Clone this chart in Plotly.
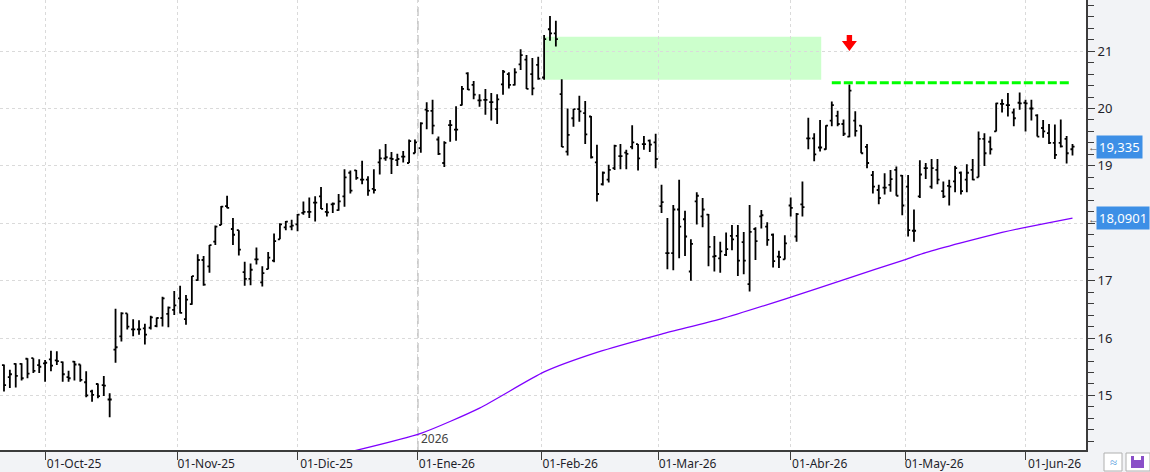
import pandas as pd
import plotly.graph_objects as go

# ---------------- data ----------------
HOLIDAYS = ['2025-12-25', '2025-12-26', '2026-01-01', '2026-04-03', '2026-04-06', '2026-05-01']
DATES = [d.strftime('%Y-%m-%d') for d in pd.bdate_range('2025-09-22', '2026-06-11')
         if d.strftime('%Y-%m-%d') not in HOLIDAYS]

OPEN = [15.53, 15.32, 15.55, 15.55, 15.64, 15.65, 15.53, 15.56, 15.63, 15.61,
        15.58, 15.32, 15.59, 15.54, 15.23, 15.07, 15.20, 15.18, 14.93, 15.80,
        16.03, 16.43, 16.15, 16.15, 16.17, 16.18, 16.21, 16.35, 16.42, 16.49,
        16.69, 16.33, 16.59, 17.01, 17.36, 17.25, 17.68, 17.97, 18.30, 17.90,
        17.88, 17.15, 17.03, 17.37, 16.97, 17.20, 17.35, 17.72, 17.93, 17.94,
        17.98, 18.18, 18.20, 18.36, 18.47, 18.20, 18.33, 18.23, 18.47, 18.88,
        18.92, 18.76, 18.76, 18.60, 19.06, 19.13, 19.13, 19.10, 19.16, 19.05,
        19.22, 19.31, 19.98, 19.96, 19.46, 19.05, 19.71, 19.63, 20.06, 20.61,
        20.41, 20.14, 20.15, 20.11, 19.99, 20.42, 20.60, 20.41, 20.77, 20.85,
        20.60, 20.76, 20.54, 21.38, 21.31, 20.25, 19.25, 19.83, 19.99, 19.92,
        19.86, 19.06, 18.68, 18.76, 18.96, 19.17, 19.23, 19.33, 19.38, 19.38,
        19.44, 19.41, 18.30, 17.48, 17.48, 18.24, 18.07, 17.16, 18.38, 18.12,
        18.15, 17.42, 17.39, 17.45, 17.78, 17.78, 17.67, 16.94, 17.90, 18.12,
        17.94, 17.80, 17.42, 17.37, 18.31, 17.77, 18.33, 19.48, 19.48, 19.32,
        19.29, 19.79, 19.87, 19.73, 19.51, 19.79, 19.70, 19.33, 18.84, 18.58,
        18.62, 18.67, 18.93, 18.83, 18.64, 17.87, 18.47, 18.96, 18.64, 18.93,
        18.56, 18.65, 18.73, 18.88, 18.76, 18.93, 18.80, 19.47, 19.42, 19.60,
        20.08, 20.06, 19.93, 20.10, 20.10, 20.00, 19.88, 19.66, 19.57, 19.40,
        19.40, 19.47, 19.29]
HIGH = [15.54, 15.45, 15.56, 15.56, 15.65, 15.65, 15.63, 15.62, 15.78, 15.77,
        15.59, 15.43, 15.60, 15.54, 15.42, 15.10, 15.21, 15.34, 15.04, 16.51,
        16.45, 16.43, 16.33, 16.31, 16.25, 16.39, 16.36, 16.72, 16.55, 16.82,
        16.91, 16.75, 17.08, 17.46, 17.43, 17.62, 17.96, 18.30, 18.48, 18.09,
        17.88, 17.33, 17.30, 17.58, 17.25, 17.50, 17.82, 18.00, 18.04, 18.06,
        18.16, 18.38, 18.45, 18.47, 18.63, 18.35, 18.36, 18.51, 18.94, 18.92,
        18.93, 19.09, 18.82, 18.94, 19.29, 19.38, 19.24, 19.21, 19.26, 19.46,
        19.46, 19.76, 20.11, 20.15, 19.51, 19.43, 19.80, 20.04, 20.39, 20.63,
        20.48, 20.25, 20.34, 20.27, 20.25, 20.67, 20.63, 20.70, 21.03, 20.93,
        20.88, 20.90, 21.28, 21.61, 21.53, 20.51, 20.00, 19.99, 20.22, 20.13,
        19.87, 19.37, 18.90, 19.02, 19.37, 19.38, 19.28, 19.71, 19.38, 19.52,
        19.46, 19.56, 18.67, 18.09, 18.32, 18.76, 18.22, 17.72, 18.54, 18.44,
        18.16, 17.78, 17.68, 17.84, 17.97, 17.97, 17.85, 18.32, 17.93, 18.23,
        18.02, 17.82, 17.52, 17.79, 18.45, 18.18, 18.73, 19.84, 19.57, 19.80,
        19.71, 20.12, 19.96, 19.81, 20.42, 19.95, 19.71, 19.38, 18.91, 18.67,
        18.87, 18.93, 18.99, 18.84, 18.84, 18.24, 19.10, 19.05, 19.12, 19.12,
        18.73, 18.76, 19.00, 18.90, 19.03, 19.12, 19.60, 19.57, 19.51, 20.10,
        20.16, 20.27, 20.00, 20.28, 20.15, 20.15, 19.90, 19.80, 19.73, 19.72,
        19.81, 19.52, 19.38]
LOW = [15.07, 15.13, 15.14, 15.26, 15.30, 15.39, 15.39, 15.24, 15.42, 15.53,
       15.24, 15.24, 15.26, 15.24, 14.97, 14.89, 14.95, 14.99, 14.62, 15.57,
       15.94, 16.15, 16.03, 16.06, 15.89, 16.15, 16.19, 16.20, 16.19, 16.40,
       16.43, 16.23, 16.58, 17.00, 16.91, 17.14, 17.62, 17.97, 18.26, 17.62,
       17.44, 16.91, 16.92, 17.28, 16.90, 17.20, 17.32, 17.72, 17.88, 17.88,
       17.86, 18.15, 18.09, 18.03, 18.25, 18.12, 18.18, 18.22, 18.29, 18.52,
       18.76, 18.68, 18.48, 18.52, 18.85, 19.09, 18.86, 19.00, 19.06, 19.05,
       19.22, 19.23, 19.64, 19.55, 19.19, 18.98, 19.42, 19.44, 20.05, 20.32,
       20.16, 20.03, 19.89, 19.79, 19.73, 20.24, 20.35, 20.40, 20.67, 20.34,
       20.23, 20.50, 20.50, 21.18, 21.08, 19.33, 19.18, 19.68, 19.77, 19.38,
       19.13, 18.38, 18.66, 18.71, 18.93, 18.94, 18.94, 19.29, 18.92, 19.28,
       19.24, 18.96, 18.18, 17.20, 17.18, 17.39, 17.43, 17.00, 17.98, 17.93,
       17.25, 17.16, 17.14, 17.43, 17.53, 17.08, 17.11, 16.81, 17.36, 17.91,
       17.61, 17.23, 17.22, 17.37, 18.12, 17.68, 18.12, 19.29, 19.08, 19.25,
       19.28, 19.69, 19.69, 19.52, 19.50, 19.51, 19.22, 18.96, 18.52, 18.33,
       18.50, 18.55, 18.48, 18.14, 17.77, 17.68, 18.44, 18.77, 18.60, 18.68,
       18.44, 18.31, 18.54, 18.50, 18.54, 18.75, 18.80, 19.00, 19.20, 19.60,
       19.93, 19.86, 19.69, 19.98, 19.60, 19.79, 19.51, 19.49, 19.38, 19.12,
       19.32, 19.04, 19.18]
CLOSE = [15.18, 15.37, 15.34, 15.30, 15.38, 15.43, 15.50, 15.57, 15.52, 15.60,
         15.37, 15.30, 15.54, 15.27, 15.00, 15.01, 14.99, 15.17, 14.93, 15.84,
         16.43, 16.20, 16.15, 16.15, 16.06, 16.36, 16.35, 16.69, 16.53, 16.57,
         16.44, 16.67, 17.08, 17.36, 16.93, 17.62, 17.94, 18.29, 18.27, 17.80,
         17.54, 17.03, 17.19, 17.37, 17.13, 17.40, 17.69, 17.98, 18.03, 17.96,
         18.15, 18.20, 18.20, 18.36, 18.25, 18.19, 18.34, 18.38, 18.80, 18.57,
         18.79, 18.76, 18.57, 18.58, 19.13, 19.15, 19.12, 19.12, 19.16, 19.43,
         19.41, 19.74, 19.96, 19.70, 19.21, 19.40, 19.71, 19.63, 20.34, 20.33,
         20.24, 20.14, 20.15, 20.11, 20.16, 20.64, 20.41, 20.63, 20.93, 20.34,
         20.35, 20.52, 21.21, 21.31, 21.21, 19.33, 19.54, 19.99, 19.95, 19.55,
         19.15, 18.51, 18.88, 18.93, 19.35, 19.17, 19.21, 19.41, 19.13, 19.38,
         19.37, 19.12, 18.37, 17.48, 18.24, 17.94, 17.77, 17.64, 18.48, 18.24,
         17.59, 17.43, 17.51, 17.55, 17.72, 17.35, 17.35, 17.85, 17.69, 18.14,
         17.71, 17.34, 17.41, 17.65, 18.27, 18.16, 18.28, 19.48, 19.20, 19.32,
         19.70, 20.06, 19.73, 19.56, 20.31, 19.61, 19.22, 19.05, 18.64, 18.44,
         18.62, 18.77, 18.48, 18.31, 17.88, 17.87, 18.85, 18.96, 18.96, 18.76,
         18.47, 18.64, 18.96, 18.56, 18.88, 18.76, 19.47, 19.22, 19.29, 20.09,
         20.08, 20.06, 19.83, 20.09, 20.09, 20.00, 19.51, 19.60, 19.40, 19.19,
         19.34, 19.22, 19.335]

MONTH_STARTS = ['2025-10-01', '2025-11-01', '2025-12-01', '2026-01-01', '2026-02-01',
                '2026-03-01', '2026-04-01', '2026-05-01', '2026-06-01']
TICK_LABELS = ['01-Oct-25', '01-Nov-25', '01-Dic-25', '01-Ene-26', '01-Feb-26',
               '01-Mar-26', '01-Abr-26', '01-May-26', '01-Jun-26']
YEAR_START = '2026-01-01'
YEAR_LABEL = '2026'

MA_DATES = ['2025-12-10', '2026-01-02', '2026-01-16', '2026-02-02', '2026-02-13',
            '2026-03-02', '2026-03-16', '2026-03-31', '2026-04-17', '2026-04-30',
            '2026-05-07', '2026-05-15', '2026-05-26', '2026-06-01', '2026-06-04',
            '2026-06-11']
MA_VALUES = [13.97, 14.34, 14.78, 15.41, 15.75, 16.07, 16.33, 16.68, 17.05, 17.35,
             17.49, 17.66, 17.84, 17.93, 17.99, 18.0901]

LAST_CLOSE_LABEL = '19,335'
MA_LAST_LABEL = '18,0901'

GAP_START, GAP_END = '2026-02-02', '2026-04-10'
GAP_LOW, GAP_HIGH = 20.50, 21.25
RES_LEVEL = 20.45
RES_START, RES_END = '2026-04-14', '2026-06-10'
PEAK_DATE = '2026-04-17'
ARROW_TIP = 21.0

# ---------------- helpers ----------------
IDX = {d: i for i, d in enumerate(DATES)}


def pos(date):
    """position of a calendar date on the trading-day axis"""
    if date in IDX:
        return IDX[date]
    later = [i for d, i in IDX.items() if d > date]
    return later[0] - 0.5


X = list(range(len(DATES)))
FONT = 'Noto Sans'
TXT = '#1f1f2b'
AX = '#3c3c3c'

fig = go.Figure()
fig.add_trace(go.Ohlc(
    x=X, open=OPEN, high=HIGH, low=LOW, close=CLOSE,
    increasing=dict(line=dict(color='black', width=1.8)),
    decreasing=dict(line=dict(color='black', width=1.8)),
    tickwidth=0.35, hoverinfo='skip', showlegend=False))
fig.add_trace(go.Scatter(
    x=[pos(d) for d in MA_DATES], y=MA_VALUES, mode='lines', line_shape='spline',
    line=dict(color='#7f00ff', width=1.3, smoothing=0.6), hoverinfo='skip', showlegend=False))

shapes = [
    dict(type='rect', xref='x', yref='y', x0=pos(GAP_START), x1=pos(GAP_END) + 0.2,
         y0=GAP_LOW, y1=GAP_HIGH, fillcolor='#ccffcc', line=dict(width=0), layer='below'),
    dict(type='line', xref='x', yref='paper', x0=pos(YEAR_START), x1=pos(YEAR_START),
         y0=0, y1=1, line=dict(color='#c4c4c4', width=1.6, dash='9px,5px'), layer='below'),
    dict(type='line', xref='x', yref='y', x0=pos(RES_START), x1=pos(RES_END) + 0.4,
         y0=RES_LEVEL, y1=RES_LEVEL, line=dict(color='#00ff00', width=3, dash='9px,3px')),
    dict(type='path', xref='x', yref='y', xsizemode='pixel', ysizemode='pixel',
         xanchor=pos(PEAK_DATE), yanchor=ARROW_TIP,
         path='M0,0 L-7.5,10 L-2.7,10 L-2.7,16 L2.7,16 L2.7,10 L7.5,10 Z',
         fillcolor='#ff0000', line=dict(width=0)),
    # bottom-right toolbar buttons
    dict(type='rect', xref='paper', yref='paper', x0=1104 / 1086, x1=1122 / 1086,
         y0=-3 / 450, y1=-21 / 450, fillcolor='white', line=dict(color='#b0b0b0', width=1)),
    dict(type='rect', xref='paper', yref='paper', x0=1126 / 1086, x1=1150 / 1086,
         y0=-3 / 450, y1=-21 / 450, fillcolor='white', line=dict(color='#b0b0b0', width=1)),
    dict(type='rect', xref='paper', yref='paper', x0=1131 / 1086, x1=1144 / 1086,
         y0=-6 / 450, y1=-18 / 450, fillcolor='#8a4fc8', line=dict(width=0)),
    dict(type='rect', xref='paper', yref='paper', x0=1134 / 1086, x1=1141 / 1086,
         y0=-6 / 450, y1=-10 / 450, fillcolor='white', line=dict(width=0)),
]

annotations = [
    dict(text=YEAR_LABEL, xref='x', yref='paper', x=pos(YEAR_START), y=0,
         xanchor='left', yanchor='bottom', xshift=1, yshift=1, showarrow=False,
         font=dict(family=FONT, size=12, color='#444')),
    dict(text=LAST_CLOSE_LABEL, xref='paper', yref='y', x=1, y=CLOSE[-1],
         xanchor='left', yanchor='middle', xshift=10, showarrow=False,
         bgcolor='#3d8fe6', borderpad=2, font=dict(family=FONT, size=13, color='white')),
    dict(text=MA_LAST_LABEL, xref='paper', yref='y', x=1, y=MA_VALUES[-1],
         xanchor='left', yanchor='middle', xshift=10, showarrow=False,
         bgcolor='#3d8fe6', borderpad=2, font=dict(family=FONT, size=13, color='white')),
    dict(text='←', xref='paper', yref='y', x=1, y=CLOSE[-1], xanchor='left',
         yanchor='middle', xshift=0, showarrow=False,
         font=dict(family=FONT, size=11, color='#555')),
    dict(text='←', xref='paper', yref='y', x=1, y=MA_VALUES[-1], xanchor='left',
         yanchor='middle', xshift=0, showarrow=False,
         font=dict(family=FONT, size=11, color='#555')),
    dict(text='≈', xref='paper', yref='paper', x=1113 / 1086, y=-12 / 450,
         xanchor='center', yanchor='middle', showarrow=False,
         font=dict(family=FONT, size=13, color='#5aa0e0')),
]

fig.update_layout(
    template='none',
    width=1150, height=472,
    margin=dict(l=0, r=64, t=0, b=22, pad=0),
    paper_bgcolor='#f2f3f6', plot_bgcolor='white',
    showlegend=False, hovermode=False,
    shapes=shapes, annotations=annotations,
    xaxis=dict(
        type='linear', range=[-0.68, 184.3], rangeslider=dict(visible=False),
        tickmode='array', tickvals=[pos(d) for d in MONTH_STARTS], ticktext=TICK_LABELS,
        ticks='outside', ticklen=8, tickcolor=AX, tickwidth=1,
        ticklabelshift=29, ticklabelstandoff=-6,
        showgrid=True, gridcolor='#dadada', griddash='3px,3px', gridwidth=1,
        showline=True, linecolor=AX, linewidth=2, zeroline=False, automargin=False,
        tickfont=dict(family=FONT, size=12, color=TXT)),
    yaxis=dict(
        side='right', range=[14.05, 21.89], tickmode='linear', tick0=0, dtick=1,
        ticks='outside', ticklen=7, tickcolor=AX, tickwidth=1,
        minor=dict(dtick=0.2, tick0=0, ticks='outside', ticklen=6, tickcolor=AX, showgrid=False),
        showgrid=True, gridcolor='#dadada', griddash='3px,3px', gridwidth=1,
        showline=True, linecolor=AX, linewidth=2, zeroline=False, automargin=False,
        tickfont=dict(family=FONT, size=13, color=TXT)),
)

fig.write_html('out.html')
